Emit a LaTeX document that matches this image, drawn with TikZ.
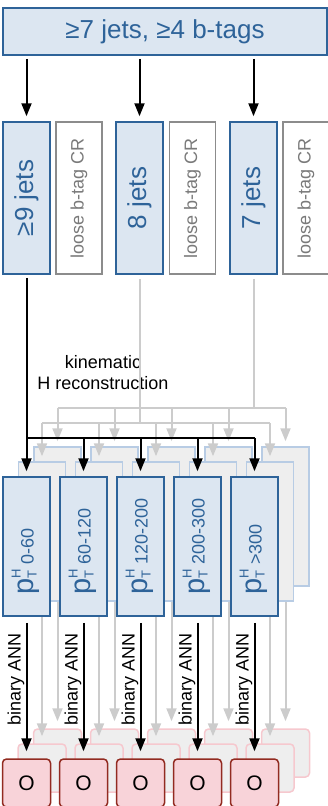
\documentclass[tikz,border=0pt]{standalone}
\usepackage{fontspec}
\setmainfont{Liberation Sans}
\usetikzlibrary{arrows.meta}
\definecolor{bfill}{HTML}{DCE6F1}
\definecolor{bdraw}{HTML}{2E6399}
\definecolor{crdraw}{HTML}{8C8C8C}
\definecolor{crtext}{HTML}{7A7A7A}
\definecolor{gfill}{HTML}{EEEEEE}
\definecolor{gblue}{HTML}{B8CCE4}
\definecolor{ofill}{HTML}{F8D3D9}
\definecolor{odraw}{HTML}{922B21}
\definecolor{gpink}{HTML}{F6C8CE}
\definecolor{garrow}{HTML}{CCCCCC}
\newcommand{\myfs}[1]{\fontsize{#1}{#1}\selectfont}
\tikzset{
  bluebox/.style={draw=bdraw, fill=bfill, line width=1.5pt, text=bdraw, inner sep=0pt},
  crbox/.style={draw=crdraw, fill=white, line width=1.5pt, text=crtext, inner sep=0pt},
  ptfront/.style={bluebox, minimum width=47pt, minimum height=139pt},
  ptback/.style={draw=gblue, fill=gfill, line width=1.5pt, inner sep=0pt, minimum width=47pt, minimum height=139pt},
  ofront/.style={draw=odraw, fill=ofill, rounded corners=4pt, line width=1.5pt, inner sep=0pt, minimum size=48pt, font=\myfs{21}},
  oback/.style={draw=gpink, fill=gfill, rounded corners=4pt, line width=1.5pt, inner sep=0pt, minimum size=48pt},
  blk/.style={line width=2pt, black},
  gry/.style={line width=2pt, garrow},
  tip/.style={-{Triangle[length=13pt,width=10pt]}}
}
\begin{document}
\begin{tikzpicture}[x=1pt,y=-1pt]
\useasboundingbox (0,0) rectangle (328,806);
% top box
\node[bluebox, minimum width=324pt, minimum height=47pt, font=\myfs{26}] (top) at (165,31.5) {≥7 jets, ≥4 b-tags};
% jet-category boxes
\node[bluebox, rotate=90, minimum width=152pt, minimum height=47pt, font=\myfs{26}] (n9) at (26.5,198) {≥9 jets};
\node[crbox, rotate=90, minimum width=152pt, minimum height=46pt, font=\myfs{18}] (cr1) at (79,198) {loose b-tag CR};
\node[bluebox, rotate=90, minimum width=152pt, minimum height=47pt, font=\myfs{26}] (n8) at (139.5,198) {8 jets};
\node[crbox, rotate=90, minimum width=152pt, minimum height=46pt, font=\myfs{18}] (cr2) at (192.5,198) {loose b-tag CR};
\node[bluebox, rotate=90, minimum width=152pt, minimum height=47pt, font=\myfs{26}] (n7) at (253.5,198) {7 jets};
\node[crbox, rotate=90, minimum width=152pt, minimum height=46pt, font=\myfs{18}] (cr3) at (306,198) {loose b-tag CR};
% arrows from top box
\foreach \n in {n9,n8,n7}{
  \draw[blk, tip, shorten <=3pt, shorten >=5pt] (top.south -| \n.center) -- (\n.east);
}
% label
\node[align=center, font=\fontsize{18}{21}\selectfont] (kin) at (103,373) {kinematic\\H reconstruction};
% bus coordinates
\foreach \i in {1,...,5}{
  \pgfmathsetmacro\cx{26.5+57*(\i-1)}
  \coordinate (kb\i) at (\cx,438);
  \coordinate (km\i) at (\cx+15.5,423);
  \coordinate (kk\i) at (\cx+31,408);
}
% ---------- back layer ----------
\draw[gry, shorten <=4pt] (n7.west) -- (n7.west |- kk1);
\draw[gry] (kk1) -- (kk5);
\foreach \i in {1,...,5}{
  \pgfmathsetmacro\cx{26.5+57*(\i-1)}
  \node[ptback] (pb\i) at (\cx+31,516.5) {};
  \node[oback] (ob\i) at (\cx+31,753) {};
  \draw[gry, tip, shorten >=5pt] (kk\i) -- (pb\i.north);
  \draw[gry, tip, shorten >=7pt] (pb\i.south) -- (ob\i.north);
}
% ---------- middle layer ----------
\draw[gry, shorten <=4pt] (n8.west) -- (n8.west |- km1);
\draw[gry] (km1) -- (km5);
\foreach \i in {1,...,5}{
  \pgfmathsetmacro\cx{26.5+57*(\i-1)}
  \node[ptback] (pm\i) at (\cx+15.5,531.5) {};
  \node[oback] (om\i) at (\cx+15.5,768) {};
  \draw[gry, tip, shorten >=5pt] (km\i) -- (pm\i.north);
  \draw[gry, tip, shorten >=7pt] (pm\i.south) -- (om\i.north);
}
% ---------- front layer ----------
\draw[blk, shorten <=3pt] (n9.west) -- (kb1);
\draw[blk] (kb1) -- (kb5);
\foreach \i/\lab in {1/0-60,2/60-120,3/120-200,4/200-300,5/>300}{
  \pgfmathsetmacro\cx{26.5+57*(\i-1)}
  \node[ptfront] (pf\i) at (\cx,546.5) {};
  \node[rotate=90, anchor=base west, text=bdraw, inner sep=0pt] (pt\i) at (\cx+7,595)
    {{\myfs{29}p}\rlap{\raisebox{13pt}{\myfs{13}H}}\raisebox{-3pt}{\myfs{13}T}\hspace{6pt}{\myfs{18}\lab}};
  \draw[blk, tip, shorten >=5pt] (kb\i) -- (pf\i.north);
  \node[ofront] (of\i) at (\cx,783) {O};
  \draw[blk, tip, shorten <=6pt, shorten >=7pt] (pf\i.south) -- (of\i.north);
  \node[rotate=90, font=\myfs{18}, inner sep=0pt] (ann\i) at (\cx-10.5,679) {binary ANN};
}
\end{tikzpicture}
\end{document}
